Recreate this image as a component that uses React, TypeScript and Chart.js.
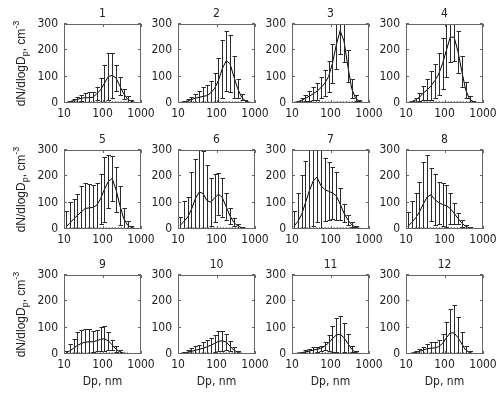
import React, { useEffect, useRef } from "react";
import { Chart, registerables } from "chart.js";
Chart.register(...registerables);

// particle diameters (nm)
const diameters = [11.2, 14.1, 17.8, 22.4, 28.2, 35.5, 44.7, 56.2, 70.8, 89.1, 112, 141, 178, 224, 282, 355, 447, 562, 708, 891];

const panelTitles = ["1", "2", "3", "4", "5", "6", "7", "8", "9", "10", "11", "12"];

const mean1 = [2, 5, 9, 14, 18, 20, 20, 22, 35, 50, 75, 100, 105, 95, 65, 35, 15, 6, 2, 1];
const std1 = [1, 3, 6, 9, 12, 18, 20, 20, 25, 45, 70, 90, 85, 50, 35, 20, 10, 4, 1, 0.5];
const mean2 = [2, 4, 8, 13, 18, 22, 25, 28, 38, 55, 85, 130, 160, 150, 100, 55, 22, 8, 3, 1];
const std2 = [1, 3, 6, 10, 15, 25, 35, 40, 45, 60, 85, 110, 115, 110, 80, 35, 12, 5, 2, 0.5];
const mean3 = [2, 5, 10, 18, 26, 35, 45, 58, 75, 100, 150, 220, 275, 235, 140, 55, 18, 6, 2, 1];
const std3 = [1, 4, 8, 12, 18, 25, 32, 40, 50, 60, 75, 90, 90, 80, 60, 35, 12, 5, 2, 0.5];
const mean4 = [2, 5, 12, 22, 38, 50, 65, 85, 110, 150, 200, 250, 250, 195, 120, 50, 15, 5, 2, 1];
const std4 = [1, 3, 8, 15, 25, 40, 55, 65, 80, 95, 100, 95, 90, 80, 60, 30, 10, 4, 1, 0.5];
const mean5 = [8, 22, 38, 52, 65, 78, 80, 82, 90, 115, 150, 180, 192, 150, 90, 40, 15, 6, 2, 1];
const std5 = [60, 80, 75, 80, 100, 95, 90, 85, 85, 95, 125, 100, 85, 85, 75, 40, 15, 5, 2, 0.5];
const mean6 = [12, 28, 45, 75, 115, 140, 135, 108, 102, 118, 132, 120, 85, 50, 25, 12, 5, 3, 1, 0.5];
const std6 = [35, 80, 75, 140, 150, 165, 160, 135, 90, 90, 80, 75, 50, 30, 15, 8, 3, 2, 1, 0.5];
const mean7 = [10, 28, 55, 100, 145, 182, 197, 165, 150, 143, 137, 126, 95, 60, 35, 16, 6, 3, 1, 0.5];
const std7 = [60, 110, 150, 160, 170, 170, 170, 160, 120, 110, 100, 90, 60, 35, 20, 10, 4, 2, 1, 0.5];
const mean8 = [10, 25, 42, 65, 95, 122, 130, 112, 100, 93, 88, 78, 60, 40, 22, 10, 4, 2, 1, 0.5];
const std8 = [55, 80, 95, 115, 160, 160, 100, 95, 80, 82, 80, 60, 40, 22, 14, 6, 3, 1, 0.5, 0.3];
const mean9 = [3, 12, 22, 33, 40, 45, 46, 47, 50, 56, 58, 50, 35, 18, 8, 3, 1.5, 1, 0.5, 0.3];
const std9 = [10, 25, 35, 50, 52, 50, 48, 40, 40, 45, 48, 35, 20, 12, 6, 2, 1, 0.5, 0.3, 0.2];
const mean10 = [2, 4, 7, 10, 14, 18, 22, 27, 33, 40, 48, 50, 45, 30, 15, 6, 2, 1, 0.5, 0.3];
const std10 = [3, 5, 8, 12, 15, 18, 22, 25, 28, 32, 38, 38, 30, 20, 10, 4, 2, 1, 0.5, 0.2];
const mean11 = [1, 3, 5, 8, 11, 15, 18, 22, 30, 42, 58, 72, 75, 62, 40, 18, 6, 2, 1, 0.5];
const std11 = [1, 2, 4, 6, 8, 10, 10, 10, 15, 30, 50, 65, 70, 55, 35, 12, 4, 1, 0.5, 0.2];
const mean12 = [1, 3, 6, 10, 15, 20, 22, 23, 28, 40, 62, 80, 80, 62, 38, 15, 5, 2, 1, 0.5];
const std12 = [1, 2, 5, 8, 12, 18, 22, 22, 25, 35, 60, 90, 105, 80, 45, 15, 5, 1, 0.5, 0.2];

// dotted low curve near zero
const baseLine = [null, 5, 5, 5, 5, 5, 5, 5, 5, 5, 5, 5, 5, 5, 5, 5, 5, null, null, null];

const means = [mean1, mean2, mean3, mean4, mean5, mean6, mean7, mean8, mean9, mean10, mean11, mean12];
const stds = [std1, std2, std3, std4, std5, std6, std7, std8, std9, std10, std11, std12];

const yTicks = [0, 100, 200, 300];
const xTicks = [10, 100, 1000];
const xTitle = "Dp, nm";

// layout
const COL_LEFT = [64, 178, 292, 406];
const ROW_TOP = [24, 150, 275];
const BOX_W = 77;
const BOX_H = 79;
const ML = 60;
const MT = 24;
const MR = 18;
const MB = 40;

const NARROW = '"Liberation Sans Narrow", "DejaVu Sans Condensed", "Liberation Sans", sans-serif';
const REG = '"Liberation Sans", Arial, sans-serif';
const TEXT = "#222";
const FRAME = "#666";

function Panel({ idx }: { idx: number }) {
  const ref = useRef<HTMLCanvasElement | null>(null);
  const col = idx % 4;
  const row = Math.floor(idx / 4);
  const mean = means[idx];
  const std = stds[idx];

  useEffect(() => {
    if (!ref.current) return;
    const deco = {
      id: "deco" + idx,
      afterDatasetsDraw(chart: any) {
        const { ctx, chartArea: a, scales } = chart;
        const x = scales.x;
        const y = scales.y;
        ctx.save();
        ctx.beginPath();
        ctx.rect(a.left, a.top, a.right - a.left, a.bottom - a.top);
        ctx.clip();
        ctx.strokeStyle = "#2a2a2a";
        ctx.lineWidth = 1;
        mean.forEach((m: number, i: number) => {
          const px = Math.round(x.getPixelForValue(diameters[i])) + 0.5;
          const top = Math.round(y.getPixelForValue(m + std[i])) + 0.5;
          const bot = Math.round(y.getPixelForValue(m - std[i])) + 0.5;
          ctx.beginPath();
          ctx.moveTo(px, top);
          ctx.lineTo(px, bot);
          ctx.moveTo(px - 2, top);
          ctx.lineTo(px + 2.5, top);
          ctx.moveTo(px - 2, bot);
          ctx.lineTo(px + 2.5, bot);
          ctx.stroke();
        });
        ctx.restore();
      },
      afterDraw(chart: any) {
        const { ctx, chartArea: a, scales } = chart;
        const x = scales.x;
        const y = scales.y;
        ctx.save();
        ctx.strokeStyle = FRAME;
        ctx.lineWidth = 1;
        ctx.strokeRect(a.left + 0.5, a.top + 0.5, a.right - a.left - 1, a.bottom - a.top - 1);
        ctx.beginPath();
        yTicks.forEach((v) => {
          const py = Math.round(y.getPixelForValue(v)) - 0.5;
          ctx.moveTo(a.left, py);
          ctx.lineTo(a.left + 3, py);
          ctx.moveTo(a.right - 3, py);
          ctx.lineTo(a.right, py);
        });
        xTicks.forEach((v) => {
          const px = Math.round(x.getPixelForValue(v)) + 0.5;
          ctx.moveTo(px, a.bottom);
          ctx.lineTo(px, a.bottom - 3);
          ctx.moveTo(px, a.top);
          ctx.lineTo(px, a.top + 3);
        });
        ctx.stroke();

        ctx.fillStyle = TEXT;
        ctx.font = "12px " + NARROW;
        ctx.textAlign = "center";
        ctx.textBaseline = "alphabetic";
        ctx.fillText(panelTitles[idx], (a.left + a.right) / 2, a.top - 7);

        if (row === 2) {
          ctx.fillText(xTitle, (a.left + a.right) / 2, a.bottom + 31);
        }

        if (col === 0) {
          ctx.save();
          ctx.translate(a.left - 39, (a.top + a.bottom) / 2);
          ctx.rotate(-Math.PI / 2);
          const parts = [
            { t: "dN/dlogD", s: 12, dy: 0 },
            { t: "p", s: 9, dy: 3 },
            { t: ", cm", s: 12, dy: 0 },
            { t: "-3", s: 9, dy: -6 },
          ];
          let total = 0;
          parts.forEach((p) => {
            ctx.font = p.s + "px " + REG;
            total += ctx.measureText(p.t).width;
          });
          let cx = -total / 2;
          ctx.textAlign = "left";
          parts.forEach((p) => {
            ctx.font = p.s + "px " + REG;
            ctx.fillText(p.t, cx, p.dy);
            cx += ctx.measureText(p.t).width;
          });
          ctx.restore();
        }
        ctx.restore();
      },
    };

    const chart = new Chart(ref.current, {
      type: "line",
      data: {
        datasets: [
          {
            data: diameters.map((d, i) => ({ x: d, y: mean[i] })),
            borderColor: "#000",
            borderWidth: 1,
            pointRadius: 0,
            tension: 0,
          },
          {
            data: diameters.map((d, i) => ({ x: d, y: baseLine[i] })),
            borderColor: "#444",
            borderWidth: 1,
            borderDash: [1, 2],
            pointRadius: 0,
            spanGaps: false,
          },
        ],
      },
      options: {
        animation: false,
        responsive: false,
        events: [],
        layout: { padding: { left: 0, top: MT, right: MR, bottom: 0 } },
        plugins: {
          legend: { display: false },
          tooltip: { enabled: false },
          title: { display: false },
        },
        scales: {
          x: {
            type: "logarithmic",
            min: 10,
            max: 1000,
            position: "bottom",
            grid: { display: false, drawTicks: false },
            border: { display: false },
            ticks: {
              font: { size: 12, family: NARROW },
              color: TEXT,
              padding: 4,
              autoSkip: false,
              maxRotation: 0,
              callback: (v: any) => String(v),
            },
            afterBuildTicks: (s: any) => {
              s.ticks = xTicks.map((v) => ({ value: v }));
            },
            afterFit: (s: any) => {
              s.height = MB;
              s.paddingLeft = 0;
              s.paddingRight = 0;
            },
          },
          y: {
            min: 0,
            max: 300,
            grid: { display: false, drawTicks: false },
            border: { display: false },
            ticks: {
              font: { size: 12, family: NARROW },
              color: TEXT,
              padding: 6,
            },
            afterBuildTicks: (s: any) => {
              s.ticks = yTicks.map((v) => ({ value: v }));
            },
            afterFit: (s: any) => {
              s.width = ML;
              s.paddingTop = 0;
              s.paddingBottom = 0;
            },
          },
        },
      },
      plugins: [deco],
    } as any);
    return () => chart.destroy();
  }, [idx]);

  const w = ML + BOX_W + MR;
  const h = MT + BOX_H + MB;
  return (
    <canvas
      ref={ref}
      width={w}
      height={h}
      style={{
        position: "absolute",
        left: COL_LEFT[col] - ML,
        top: ROW_TOP[row] - MT,
        width: w,
        height: h,
      }}
    />
  );
}

export default function App() {
  useEffect(() => {
    document.body.style.margin = "0";
    document.body.style.background = "#fff";
  }, []);
  return (
    <div style={{ position: "relative", width: 502, height: 398, background: "#fff", overflow: "hidden" }}>
      {panelTitles.map((_, i) => (
        <Panel key={i} idx={i} />
      ))}
    </div>
  );
}
